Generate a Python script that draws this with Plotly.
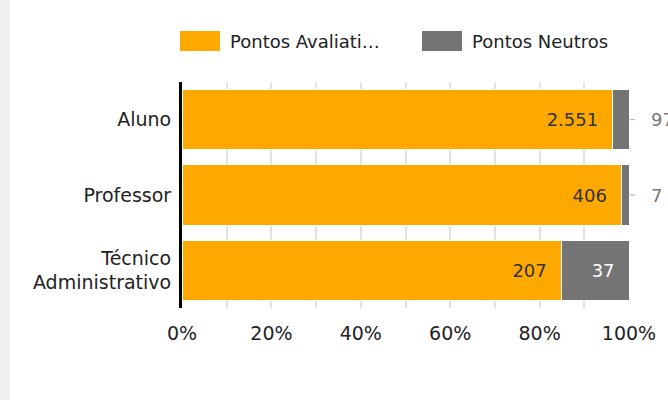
import plotly.graph_objects as go

categories = ["Aluno", "Professor", "Técnico<br>Administrativo"]
avaliativos = [2551, 406, 207]
neutros = [97, 7, 37]
series_names = ["Pontos Avaliati…", "Pontos Neutros"]
tick_vals = [0, 20, 40, 60, 80, 100]
tick_text = ["0%", "20%", "40%", "60%", "80%", "100%"]

totals = [a + n for a, n in zip(avaliativos, neutros)]
pct_a = [a / t * 100 for a, t in zip(avaliativos, totals)]
pct_n = [n / t * 100 for n, t in zip(neutros, totals)]

def fmt(v):
    return f"{v:,}".replace(",", ".")

FONT = "DejaVu Sans"
ORANGE = "#FFA800"
GRAY = "#747474"
PAD = "\u00a0\u00a0"

inside_n = [fmt(n) + PAD if p > 8 else "" for n, p in zip(neutros, pct_n)]

fig = go.Figure()
fig.add_trace(go.Bar(
    y=categories, x=pct_a, orientation="h", name=series_names[0],
    marker=dict(color=ORANGE, line=dict(color="white", width=1)),
    text=[fmt(a) + PAD for a in avaliativos], textposition="inside",
    insidetextanchor="end", textfont=dict(color="#333333", size=18, family=FONT),
    hoverinfo="skip", showlegend=False,
))
fig.add_trace(go.Bar(
    y=categories, x=pct_n, orientation="h", name=series_names[1],
    marker=dict(color=GRAY, line=dict(color="white", width=1)),
    text=inside_n, textposition="inside",
    insidetextanchor="end", textfont=dict(color="white", size=18, family=FONT),
    hoverinfo="skip", showlegend=False,
))

for c, n, p in zip(categories, neutros, pct_n):
    if p <= 8:
        fig.add_annotation(
            x=100, y=c, xref="x", yref="y", text=fmt(n),
            showarrow=True, arrowhead=0, arrowwidth=1, arrowcolor="#aaaaaa",
            ax=20, ay=0, startstandoff=14, standoff=1,
            xanchor="left", font=dict(color="#777777", size=18, family=FONT),
        )

# legend drawn as swatches + text (paper coords: plot x 182..629, y 82..308)
PW, PH = 447, 226
def px(x):
    return (x - 182) / PW
def py(y):
    return 1 - (y - 82) / PH

legend_items = [(180, ORANGE, series_names[0]), (422, GRAY, series_names[1])]
shapes = [dict(type="rect", xref="paper", yref="paper",
               x0=px(0), x1=px(10), y0=py(400), y1=py(0),
               fillcolor="#f0f0f0", line=dict(width=0), layer="below")]
for x0, col, name in legend_items:
    shapes.append(dict(type="rect", xref="paper", yref="paper",
                       x0=px(x0), x1=px(x0 + 40), y0=py(51), y1=py(31),
                       fillcolor=col, line=dict(width=0)))
    fig.add_annotation(x=px(x0 + 48), y=py(41), xref="paper", yref="paper",
                       text=name, showarrow=False, xanchor="left", yanchor="middle",
                       font=dict(size=18, family=FONT, color="#222222"))

fig.update_layout(
    width=668, height=400,
    barmode="stack", bargap=0.2,
    paper_bgcolor="white", plot_bgcolor="white",
    margin=dict(l=182, r=39, t=82, b=92),
    font=dict(family=FONT, size=18, color="#222222"),
    showlegend=False,
    xaxis=dict(range=[0, 100], tickvals=tick_vals, ticktext=tick_text,
               showgrid=True, gridcolor="#e2e2e2", gridwidth=2,
               zeroline=False, showline=False, ticklabelstandoff=12,
               tickfont=dict(size=19, family=FONT, color="#222222"), ticks=""),
    yaxis=dict(autorange="reversed", showline=True, linecolor="black", linewidth=3,
               tickfont=dict(size=19, family=FONT, color="#222222"), ticks="",
               ticklabelstandoff=4),
    shapes=shapes,
)
fig.update_xaxes(minor=dict(dtick=10, showgrid=True, gridcolor="#e2e2e2", gridwidth=2))

fig.write_html("out.html", post_script="document.body.style.margin='0';",
               config={"displayModeBar": False})
